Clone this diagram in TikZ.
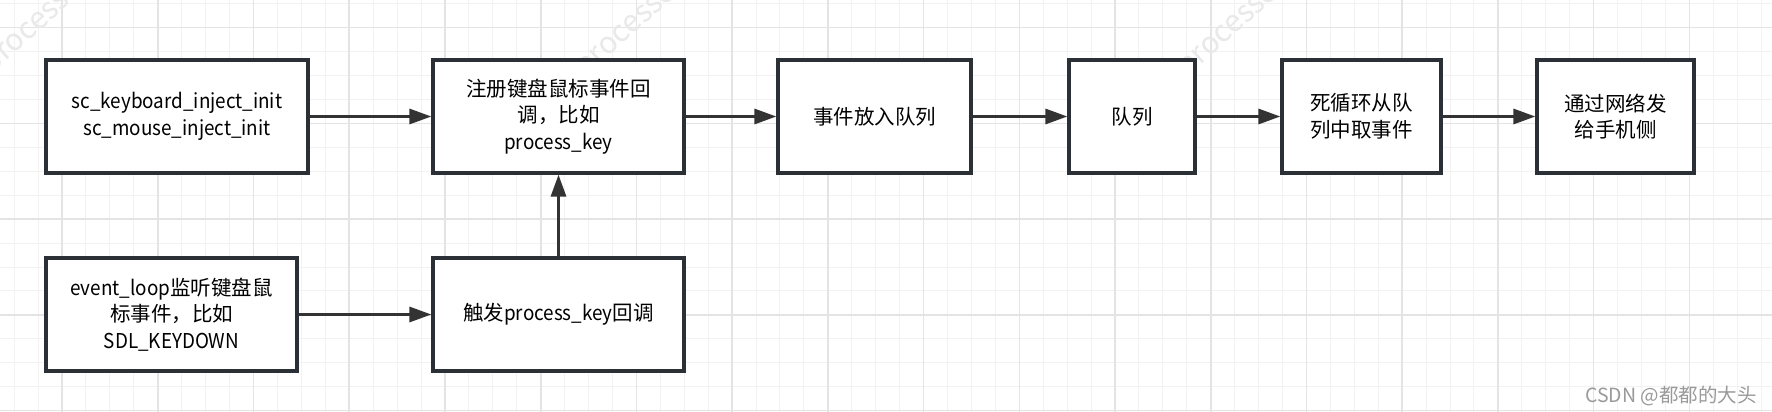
\documentclass[tikz,border=0pt]{standalone}
\usepackage{fontspec}
\setmainfont{Noto Sans CJK SC}
\newfontfamily\latinpart[FakeStretch=0.92]{Noto Sans CJK SC}
\usetikzlibrary{arrows.meta}
\definecolor{boxline}{HTML}{2A3036}
\definecolor{arrowc}{HTML}{333333}
\definecolor{gridminor}{HTML}{F2F2F2}
\definecolor{gridmajor}{HTML}{E4E4E4}
\definecolor{marktext}{HTML}{9A9A9A}
\definecolor{faintmark}{HTML}{E9E9E9}
\newcommand{\lt}[1]{{\latinpart #1}}

\begin{document}
\begin{tikzpicture}[x=1pt,y=-1pt,
  stepbox/.style={draw=boxline, line width=3.2pt, fill=white, inner sep=0pt,
    align=center, text=black, font=\fontsize{20.5}{26.5}\selectfont,
    minimum height=113pt},
  flow/.style={draw=arrowc, line width=3pt, -{Triangle[length=22pt,width=15pt]}},
  minorline/.style={draw=gridminor, line width=1pt},
  majorline/.style={draw=gridmajor, line width=1.6pt},
  wmark/.style={rotate=42, anchor=base west, text=faintmark, inner sep=0pt,
    font=\fontsize{30}{30}\selectfont}]

\useasboundingbox (0,0) rectangle (1772,412);
\clip (0,0) rectangle (1772,412);
\fill[white] (0,0) rectangle (1772,412);

% background grid
\foreach \i in {0,...,74} \draw[minorline] (14.2+\i*23.93,0) -- ++(0,412);
\foreach \i in {0,...,17} \draw[minorline] (0,3.8+\i*23.93) -- ++(1772,0);
\foreach \i in {0,...,18} \draw[majorline] (62.1+\i*95.72,0) -- ++(0,412);
\foreach \i in {0,...,4} \draw[majorline] (0,27.7+\i*95.72) -- ++(1772,0);

% faint watermarks
\node[wmark] (wm1) at (-8.6,74.4) {processon};
\node[wmark] (wm2) at (585,78) {processon};
\node[wmark] (wm3) at (1187,78) {processon};

% top row
\node[stepbox, minimum width=262pt] (init) at (177,116.5)
  {\lt{sc\_keyboard\_inject\_init}\\\lt{sc\_mouse\_inject\_init}};
\node[stepbox, minimum width=251pt] (reg) at (558.5,116.5)
  {注册键盘鼠标事件回\\调，比如\\\lt{process\_key}};
\node[stepbox, minimum width=193pt] (push) at (874.5,116.5) {事件放入队列};
\node[stepbox, minimum width=126pt] (queue) at (1132,116.5) {队列};
\node[stepbox, minimum width=159pt] (loop) at (1361.5,116.5) {死循环从队\\列中取事件};
\node[stepbox, minimum width=157pt] (send) at (1615.5,116.5) {通过网络发\\给手机侧};

% bottom row
\node[stepbox, minimum width=251pt] (evloop) at (171.5,314.5)
  {\lt{event\_loop}监听键盘鼠\\标事件，比如\\\lt{SDL\_KEYDOWN}};
\node[stepbox, minimum width=251pt] (fire) at (558.5,314.5) {触发\lt{process\_key}回调};

% connectors
\draw[flow] (init) -- (reg);
\draw[flow] (reg) -- (push);
\draw[flow] (push) -- (queue);
\draw[flow] (queue) -- (loop);
\draw[flow] (loop) -- (send);
\draw[flow] (evloop) -- (fire);
\draw[flow] (fire) -- (reg);

% signature
\node[anchor=base east, inner sep=0pt, text=marktext,
  font=\fontsize{19.5}{19.5}\selectfont] (sig) at (1757,402) {CSDN @都都的大头};
\end{tikzpicture}
\end{document}
